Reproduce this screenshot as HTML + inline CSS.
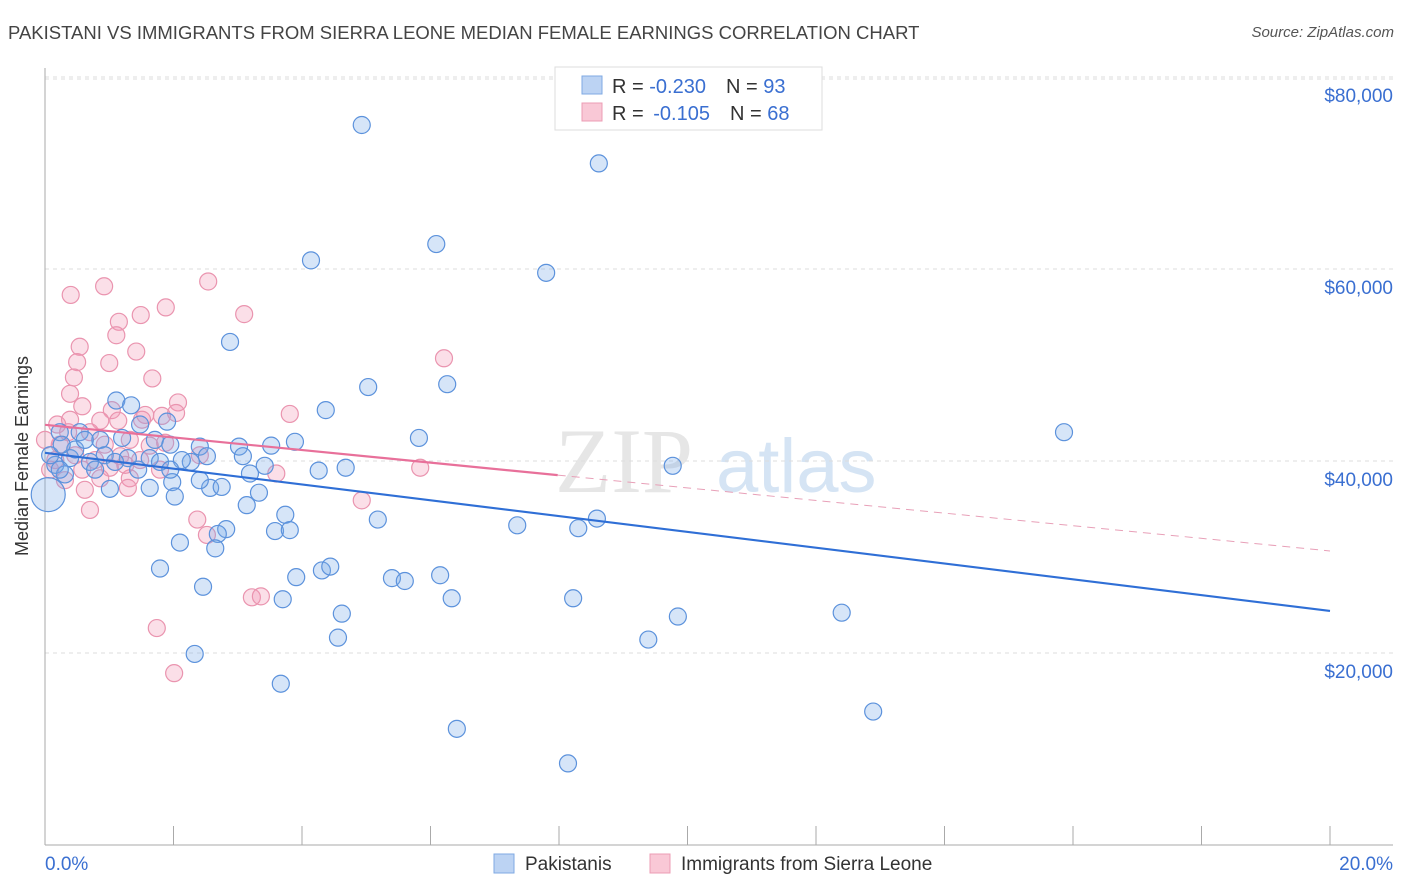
<!DOCTYPE html>
<html><head><meta charset="utf-8"><style>
body{margin:0;background:#fff;font-family:"Liberation Sans",sans-serif;}
#wrap{position:relative;width:1406px;height:892px;overflow:hidden;}
.t{position:absolute;white-space:nowrap;}
</style></head><body>
<div id="wrap">
<div class="t" style="left:8px;top:22px;font-size:18.5px;color:#444;">PAKISTANI VS IMMIGRANTS FROM SIERRA LEONE MEDIAN FEMALE EARNINGS CORRELATION CHART</div>
<div class="t" style="right:12px;top:24px;font-size:15px;color:#555;font-style:italic;">Source: ZipAtlas.com</div>
<svg id="chart" width="1406" height="892" style="position:absolute;left:0;top:0">
<text x="555" y="492" font-size="92" fill="#e6e6e6" font-family="Liberation Serif">ZIP</text>
<text x="716" y="492" font-size="76" fill="#d5e4f4" font-family="Liberation Sans">atlas</text>
<g id="grid"></g><g id="pts"></g><g id="trend"></g>
<text x="28" y="456" font-size="18" fill="#333" transform="rotate(-90 28 456)" text-anchor="middle">Median Female Earnings</text>
<text x="45" y="870" font-size="19" fill="#3a6fd1">0.0%</text>
<text x="1393" y="870" font-size="19" fill="#3a6fd1" text-anchor="end">20.0%</text>
<g>
<rect x="555" y="67" width="267" height="63" fill="#fff" stroke="#ddd"/>
<rect x="582" y="76" width="20" height="18" fill="#bcd3f3" stroke="#7fa9e3"/>
<rect x="582" y="103" width="20" height="18" fill="#f9c8d6" stroke="#ec9cb4"/>
<text x="612" y="93" font-size="20" fill="#333">R = <tspan fill="#3a6fd1">-0.230</tspan><tspan dx="20">N = </tspan><tspan fill="#3a6fd1">93</tspan></text>
<text x="612" y="120" font-size="20" fill="#333">R = <tspan dx="4" fill="#3a6fd1">-0.105</tspan><tspan dx="20">N = </tspan><tspan fill="#3a6fd1">68</tspan></text>
</g>
<g>
<rect x="494" y="854" width="20" height="19" fill="#bcd3f3" stroke="#7fa9e3"/>
<text x="525" y="870" font-size="19" fill="#333">Pakistanis</text>
<rect x="650" y="854" width="20" height="19" fill="#f9c8d6" stroke="#ec9cb4"/>
<text x="681" y="870" font-size="19" fill="#333">Immigrants from Sierra Leone</text>
</g>
</svg>
</div>
<script>
const yTicks=[20000,40000,60000,80000];
const yTickLabels=["$20,000","$40,000","$60,000","$80,000"];
const xTicks=[0,2,4,6,8,10,12,14,16,18,20];
const blueX=[4.93,8.62,6.09,4.14,7.80,2.88,5.03,6.26,4.37,1.11,1.34,1.90,5.82,15.86,9.77,0.23,0.54,0.86,1.20,1.48,1.71,1.95,2.41,2.52,3.02,3.08,3.52,3.89,3.42,4.26,4.68,3.19,2.27,2.13,1.63,1.29,0.93,0.70,0.39,0.16,0.31,1.01,1.63,1.98,2.02,2.57,2.75,3.33,3.14,3.74,3.58,3.81,2.82,2.69,2.65,2.10,5.18,7.35,8.30,8.59,1.79,2.46,3.91,3.70,4.31,4.44,5.40,5.60,6.15,6.33,8.22,4.62,9.85,9.39,12.40,4.56,2.33,3.67,6.41,12.89,8.14,0.05,0.23,0.47,0.62,0.78,0.08,0.26,1.09,1.45,1.79,1.95,2.41];
const blueY=[75.0,71.0,62.6,60.9,59.6,52.4,47.7,48.0,45.3,46.3,45.8,44.1,42.4,43.0,39.5,43.0,43.0,42.2,42.4,43.8,42.2,41.7,41.5,40.5,41.5,40.5,41.6,42.0,39.5,39.0,39.3,38.7,39.9,40.1,40.3,40.3,40.6,39.9,40.3,39.6,38.6,37.1,37.2,37.8,36.3,37.2,37.3,36.7,35.4,34.4,32.7,32.8,32.9,32.4,30.9,31.5,33.9,33.3,33.0,34.0,28.8,26.9,27.9,25.6,28.6,29.0,27.8,27.5,28.1,25.7,25.7,24.1,23.8,21.4,24.2,21.6,19.9,16.8,12.1,13.9,8.5,36.5,39.1,41.2,42.2,39.1,40.6,41.7,39.9,39.1,39.9,39.1,38.0];
const pinkX=[0.40,0.92,2.54,1.88,3.10,1.49,1.15,1.11,0.54,1.42,1.00,0.50,0.45,1.67,6.21,0.39,0.58,1.04,1.56,2.07,2.04,3.81,0.86,1.14,1.51,1.82,0.19,0.36,0.70,1.32,1.63,1.87,2.41,5.84,0.23,0.47,0.16,0.78,1.17,1.48,1.01,0.86,1.32,0.62,1.29,3.60,4.93,0.70,2.37,2.52,3.22,3.36,1.74,2.01,0.08,0.31,0.00,0.58,0.93,1.25,1.79,0.39];
const pinkY=[57.3,58.2,58.7,56.0,55.3,55.2,54.5,53.1,51.9,51.4,50.2,50.3,48.7,48.6,50.7,47.0,45.7,45.3,44.8,46.1,45.0,44.9,44.2,44.2,44.3,44.7,43.8,43.0,43.0,42.2,41.6,41.9,40.6,39.3,41.7,40.6,40.1,40.1,40.5,40.1,39.3,38.2,38.2,37.0,37.2,38.7,35.9,34.9,33.9,32.3,25.8,25.9,22.6,17.9,39.1,38.0,42.2,39.1,41.7,39.6,39.1,44.3];
const blueTrend=[40850,24380];
const pinkTrend=[43770,30630];
const pinkSolidEnd=7.98;
const NS="http://www.w3.org/2000/svg";
const X0=45,X1=1330,Y0=845,PER=192/20000;
function sx(p){return X0+(p/20)*(X1-X0);}
function sy(v){return Y0-v*PER;}
function mk(tag,attrs,parent){const e=document.createElementNS(NS,tag);for(const k in attrs)e.setAttribute(k,attrs[k]);parent.appendChild(e);return e;}
const grid=document.getElementById('grid');
yTicks.forEach((v,i)=>{
 const l=mk('line',{x1:X0,x2:1393,y1:sy(v),y2:sy(v),stroke:'#ddd','stroke-dasharray':'4,4'},grid);
 
 
 const t=mk('text',{x:1393,y:sy(v)+25,'font-size':19,fill:'#3a6fd1','text-anchor':'end'},grid);
 t.textContent=yTickLabels[i];
 
 
});
const topGrid=mk('line',{x1:X0,x2:1393,y1:79,y2:79,stroke:'#ddd','stroke-dasharray':'4,4'},grid);


const ya=mk('line',{x1:X0,x2:X0,y1:68,y2:Y0,stroke:'#aaa'},grid);


const xa=mk('line',{x1:X0,x2:1393,y1:Y0,y2:Y0,stroke:'#aaa'},grid);


xTicks.forEach(p=>{
 const l=mk('line',{x1:sx(p),x2:sx(p),y1:826,y2:Y0,stroke:'#aaa'},grid);
 
 
});
const pts=document.getElementById('pts');
pinkX.forEach((x,i)=>{
 const c=mk('circle',{cx:sx(x),cy:sy(pinkY[i]*1000),r:8.5,fill:'rgba(242,150,180,0.3)',stroke:'#ea94af','stroke-width':1.2},pts);
 
 
});
blueX.forEach((x,i)=>{
 const r=i===81?17:8.5;
 const c=mk('circle',{cx:sx(x),cy:sy(blueY[i]*1000),r:r,fill:'rgba(120,170,232,0.3)',stroke:'#5c92dc','stroke-width':1.2},pts);
 
 
});
const tr=document.getElementById('trend');
function at(t,p){return t[0]+(t[1]-t[0])*p/20;}
const bl=mk('line',{x1:sx(0),y1:sy(at(blueTrend,0)),x2:sx(20),y2:sy(at(blueTrend,20)),stroke:'#2f6fd6','stroke-width':2.2},tr);


const pl=mk('line',{x1:sx(0),y1:sy(at(pinkTrend,0)),x2:sx(pinkSolidEnd),y2:sy(at(pinkTrend,pinkSolidEnd)),stroke:'#e8709a','stroke-width':2.2},tr);


const pd=mk('line',{x1:sx(pinkSolidEnd),y1:sy(at(pinkTrend,pinkSolidEnd)),x2:sx(20),y2:sy(at(pinkTrend,20)),stroke:'#e8a0b8','stroke-width':1,'stroke-dasharray':'8,6'},tr);


</script>
</body></html>
